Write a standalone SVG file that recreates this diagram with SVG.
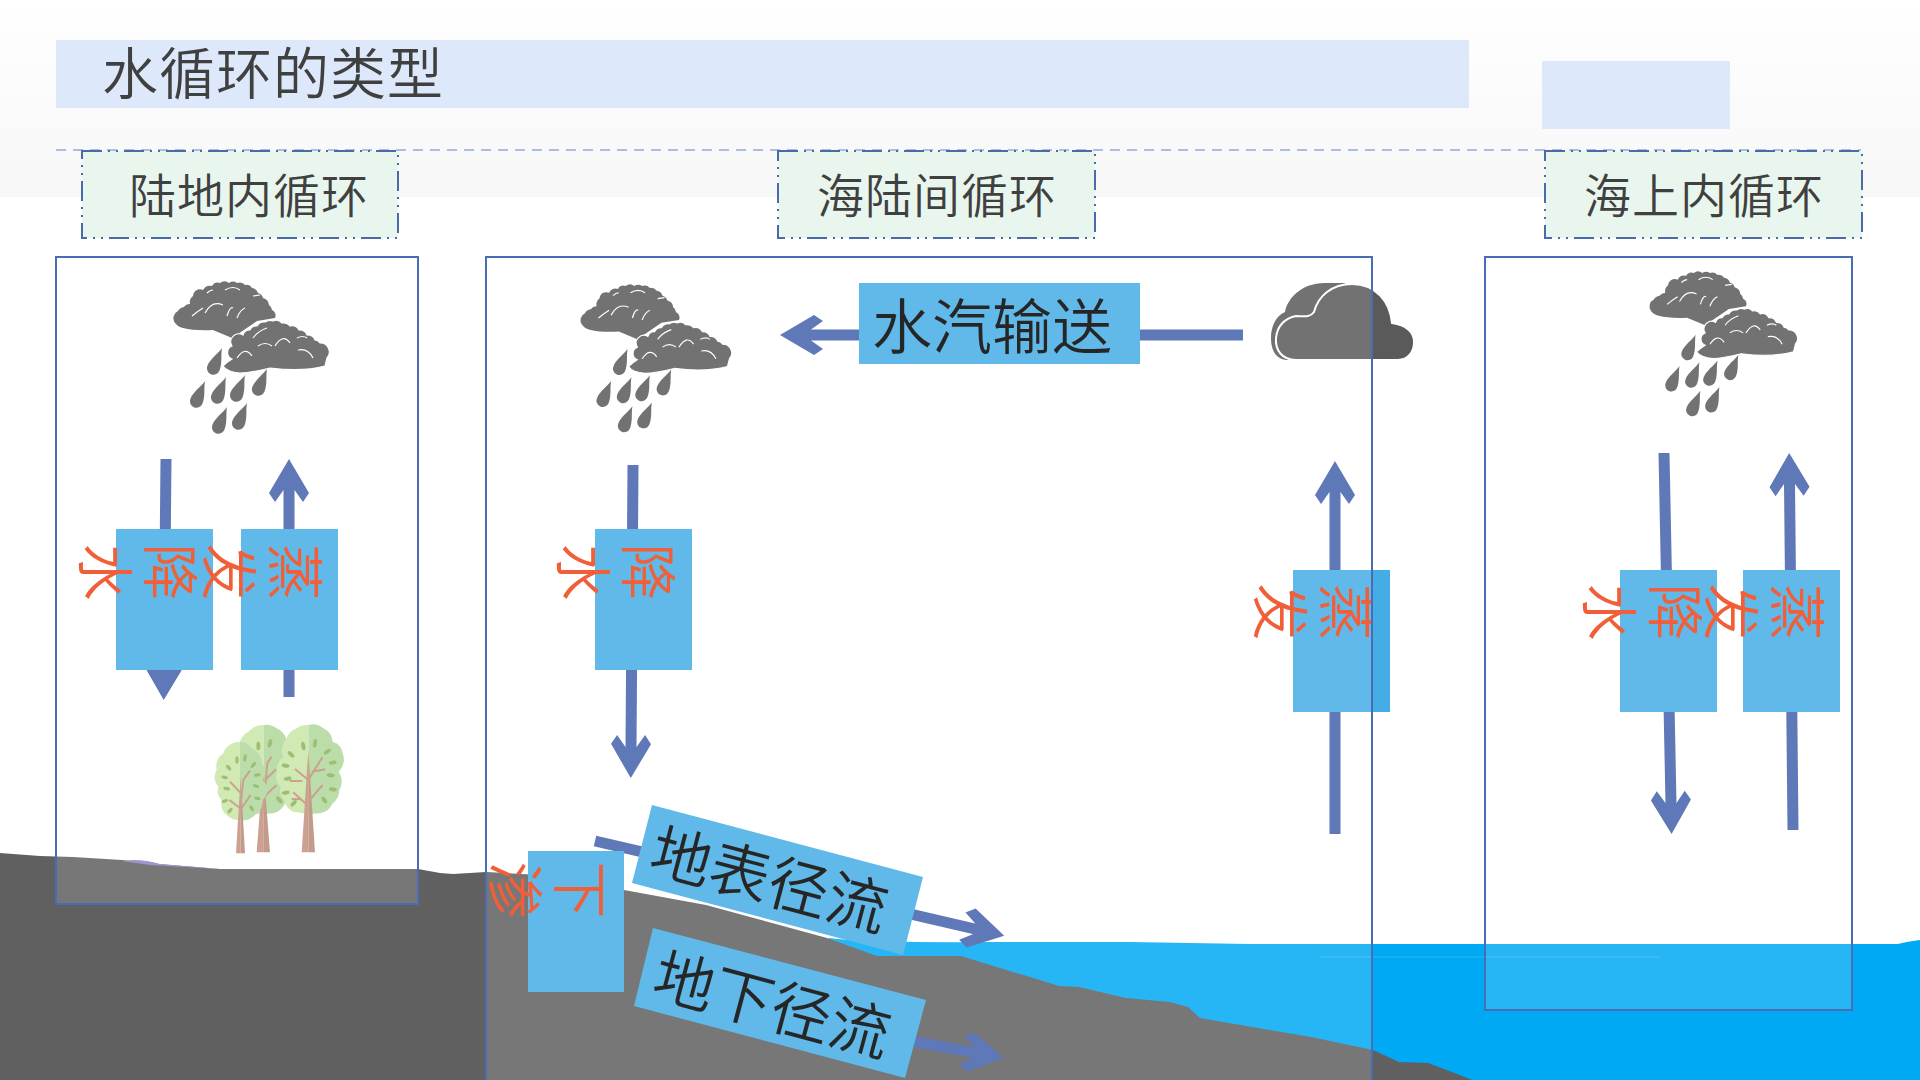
<svg xmlns="http://www.w3.org/2000/svg" xmlns:xlink="http://www.w3.org/1999/xlink" width="1920" height="1080" viewBox="0 0 1920 1080">
  <style>
    text { font-family: "Noto Sans CJK SC", "Noto Sans", sans-serif; font-weight: 350; }
    .title { font-size: 56px; letter-spacing: 1px; fill: #404040; }
    .tag-box { fill: #e8f6ee; stroke: #4a6ba8; stroke-width: 2; stroke-dasharray: 20 6 2 6 2 6; }
    .tag { font-size: 47px; letter-spacing: 1px; fill: #404040; text-anchor: middle; }
    .box { fill: #45ade5; }
    .v { font-size: 57px; fill: #ee4416; text-anchor: middle; }
    .flow { font-size: 60.5px; fill: #000; text-anchor: middle; }
    .pipe { fill: none; stroke: #4361ac; stroke-width: 11; marker-end: url(#head); }
    .panel { fill: #fff; fill-opacity: .15; stroke: #4a6cb4; stroke-width: 2; }
    .dark { fill: #5a5a5a; }
    .gleam { fill: none; stroke: #fff; stroke-width: 1.2; }
    .bark { fill: none; stroke: #c4917c; stroke-width: 6; }
    .leaf { fill: #8fb35c; }
  </style>
  <defs>
    <linearGradient id="band" x1="0" y1="0" x2="0" y2="1">
      <stop offset="0" stop-color="#ffffff"/>
      <stop offset="1" stop-color="#f7f7f7"/>
    </linearGradient>
    <marker id="head" markerUnits="userSpaceOnUse" viewBox="-45 -22 46 44" refX="-30" refY="0" markerWidth="46" markerHeight="44" orient="auto">
      <path d="M0,0 L-34,20 L-43,14 L-31,5.5 L-31,-5.5 L-43,-14 L-34,-20 Z" fill="#4361ac"/>
    </marker>
    <path id="drop" d="M0,0 C1.5,7 6.5,14 6.5,22 A6.5,6.5 0 0 1 -6.5,22 C-6.5,14 -1.5,7 0,0 Z"/>
    <g id="rainCloud" class="dark">
      <!-- upper and lower thunderheads with scalloped crowns -->
      <path d="M0,40 A8,8 0 0 1 3,28 A8,8 0 0 1 9,24 A7,7 0 0 1 15,21 A8,8 0 0 1 18,13 A7,7 0 0 1 28,7 A8,8 0 0 1 37,3 A7,7 0 0 1 45,0 A7,7 0 0 1 54,0 A7,7 0 0 1 62,0 A8,8 0 0 1 70,2 A7,7 0 0 1 77,5 A7,7 0 0 1 83,10 A7,7 0 0 1 88,15 A8,8 0 0 1 94,22 A7,7 0 0 1 97,27 A6,6 0 0 1 100,35 L82,38 L57,55 L38,47 Q20,48 8,45 Q3,44 0,40 Z"/>
      <path d="M48,83 Q52,79 57,76 A7,7 0 0 1 57,63 A8,8 0 0 1 68,52 A7,7 0 0 1 75,47 A7,7 0 0 1 82,43 A8,8 0 0 1 90,39 A8,8 0 0 1 98,38 A8,8 0 0 1 107,40 A8,8 0 0 1 115,43 A8,8 0 0 1 124,47 A8,8 0 0 1 132,52 A8,8 0 0 1 140,57 A7,7 0 0 1 145,60 A9,9 0 0 1 152,75 L150,83 Q128,89 95,85 Q75,90 65,90 Q52,89 48,83 Z" stroke="#fff" stroke-width="1.2"/>
      <path class="gleam" d="M30,30 Q37,17 48,22 M52,33 Q55,23 58,25 M62,35 Q65,27 70,25 M17,33 Q23,28 28,25 M50,7 Q58,2 65,7 M32,10 Q35,7 38,7 M78,13 L85,12"/>
      <path class="gleam" d="M62,75 Q70,63 77,73 M83,63 Q90,58 97,63 M100,63 Q108,50 115,60 M123,67 Q133,65 138,75 M122,55 Q128,52 132,55 M78,55 Q83,48 92,45"/>
      <use xlink:href="#drop" href="#drop" transform="translate(47 65) rotate(23)"/>
      <use xlink:href="#drop" href="#drop" transform="translate(30 98) rotate(23)"/>
      <use xlink:href="#drop" href="#drop" transform="translate(51 94) rotate(23)"/>
      <use xlink:href="#drop" href="#drop" transform="translate(70 92) rotate(23)"/>
      <use xlink:href="#drop" href="#drop" transform="translate(92 86) rotate(23)"/>
      <use xlink:href="#drop" href="#drop" transform="translate(52 124) rotate(23)"/>
      <use xlink:href="#drop" href="#drop" transform="translate(72 120) rotate(23)"/>
    </g>
  </defs>

  <!-- page backdrop -->
  <rect width="1920" height="1080" fill="#fff"/>
  <rect width="1920" height="197" fill="url(#band)"/>

  <!-- water and land -->
  <path d="M829,938 Q870,943 1000,942 L1130,942 L1250,944 L1898,944 Q1905,942 1920,940 L1920,1080 L1400,1080 L829,960 Z" fill="#00a9f4"/>
  <line x1="1320" y1="957" x2="1660" y2="957" stroke="#fff" stroke-opacity=".12" stroke-width="1.5"/>
  <path d="M0,853 L40,856 L73,857 L122,860 L159,864 L220,869 L418,869 L440,873 L453,874 L486,872 L540,875 L624,890 L706,905 L827,938 L877,956 L961,956 L1000,968 L1030,977 L1059,986 L1079,987 L1126,998 L1170,1002 L1188,1007 L1200,1018 L1252,1027 L1311,1037 L1373,1050 L1399,1062 L1428,1063 L1452,1072 L1472,1080 L0,1080 Z" fill="#606060"/>
  <path d="M122,861 Q140,858 160,864 L220,869 L150,865 Z" fill="#8a86c4"/>

  <!-- heading -->
  <g id="heading">
    <rect x="56" y="40" width="1413" height="68" fill="#dde9fa"/>
    <text class="title" x="102" y="94">水循环的类型</text>
  </g>
  <rect id="heading-side" x="1542" y="61" width="188" height="68" fill="#dde9fa"/>
  <line x1="56" y1="150" x2="1861" y2="150" stroke="#aabfdf" stroke-width="2" stroke-dasharray="10 7"/>

  <g id="tag-land">
    <rect class="tag-box" x="82" y="151" width="316" height="87"/>
    <text class="tag" x="249" y="213">陆地内循环</text>
  </g>
  <g id="tag-between">
    <rect class="tag-box" x="778" y="151" width="317" height="87"/>
    <text class="tag" x="937" y="213">海陆间循环</text>
  </g>
  <g id="tag-sea">
    <rect class="tag-box" x="1545" y="151" width="317" height="87"/>
    <text class="tag" x="1704" y="213">海上内循环</text>
  </g>

  <!-- weather -->
  <g id="rain-land"><use xlink:href="#rainCloud" href="#rainCloud" transform="translate(175 283)"/></g>
  <g id="rain-between"><use xlink:href="#rainCloud" href="#rainCloud" transform="translate(582 286) scale(.97)"/></g>
  <g id="rain-sea"><use xlink:href="#rainCloud" href="#rainCloud" transform="translate(1651 273) scale(.95)"/></g>
  <g id="cloud-sea" class="dark">
    <path d="M1288,360 C1276,360 1271,350 1271,338 C1271,326 1276,316 1285,312 C1287,300 1300,283 1325,283 L1345,283 L1345,360 Z"/>
    <path d="M1296,360 C1282,360 1275,350 1276,338 C1277,326 1285,318 1296,316 C1303,316 1310,318 1314,312 C1318,296 1332,284 1352,284 C1376,284 1390,302 1392,323 C1406,325 1414,332 1414,342 C1414,352 1408,360 1398,360 Z" stroke="#fff" stroke-width="2"/>
  </g>

  <!-- trees on the land -->
  <g id="trees" transform="translate(180 700) scale(.3333)">
    <g>
      <path d="M250,75 A50,50 0 0 1 290,85 A50,50 0 0 1 318,115 L318,300 A50,50 0 0 1 280,340 L250,342 Z" fill="#aed89a"/>
      <path d="M250,75 L250,342 L190,342 L180,125 A50,50 0 0 1 205,95 A60,60 0 0 1 250,75 Z" fill="#c9e6a6"/>
      <path d="M250,200 L230,457 L250,457 Z" fill="#c4917c"/>
      <path d="M250,200 L270,457 L250,457 Z" fill="#b98a77"/>
      <path class="bark" d="M250,330 L262,190 L275,170 M256,240 L288,208 M252,290 L290,255"/>
      <ellipse class="leaf" cx="235" cy="138" rx="6" ry="13"/>
      <ellipse class="leaf" cx="270" cy="130" rx="6" ry="13" transform="rotate(15 270 130)"/>
      <ellipse class="leaf" cx="298" cy="300" rx="6" ry="13" transform="rotate(-40 298 300)"/>
    </g>
    <g>
      <path d="M180,125 A45,45 0 0 1 215,145 A50,50 0 0 1 245,190 A40,40 0 0 1 248,240 A40,40 0 0 1 248,300 A50,50 0 0 1 225,345 A50,50 0 0 1 180,360 Z" fill="#aed89a"/>
      <path d="M180,360 A50,50 0 0 1 140,345 A45,45 0 0 1 125,300 A40,40 0 0 1 115,260 A40,40 0 0 1 110,210 A50,50 0 0 1 130,160 A50,50 0 0 1 180,125 Z" fill="#c9e6a6"/>
      <path d="M182,230 L168,460 L182,460 Z" fill="#c4917c"/>
      <path d="M182,230 L195,460 L182,460 Z" fill="#b98a77"/>
      <path class="bark" d="M181,320 L190,240 L210,212 M183,280 L150,245 M181,330 L212,285 M181,325 L148,300"/>
      <ellipse class="leaf" cx="171" cy="180" rx="5" ry="11"/>
      <ellipse class="leaf" cx="195" cy="174" rx="5" ry="11" transform="rotate(10 195 174)"/>
      <ellipse class="leaf" cx="146" cy="203" rx="5" ry="10" transform="rotate(-40 146 203)"/>
      <ellipse class="leaf" cx="220" cy="195" rx="5" ry="11" transform="rotate(40 220 195)"/>
      <ellipse class="leaf" cx="134" cy="232" rx="5" ry="10" transform="rotate(-75 134 232)"/>
      <ellipse class="leaf" cx="232" cy="225" rx="5" ry="10" transform="rotate(80 232 225)"/>
      <ellipse class="leaf" cx="140" cy="266" rx="5" ry="10" transform="rotate(-80 140 266)"/>
      <ellipse class="leaf" cx="228" cy="258" rx="5" ry="10" transform="rotate(-70 228 258)"/>
      <ellipse class="leaf" cx="135" cy="303" rx="5" ry="10" transform="rotate(70 135 303)"/>
      <ellipse class="leaf" cx="232" cy="295" rx="5" ry="10" transform="rotate(-80 232 295)"/>
      <ellipse class="leaf" cx="150" cy="332" rx="5" ry="10" transform="rotate(40 150 332)"/>
      <ellipse class="leaf" cx="215" cy="325" rx="5" ry="10" transform="rotate(-35 215 325)"/>
    </g>
    <g>
      <path d="M385,75 A50,50 0 0 1 430,85 A50,50 0 0 1 458,125 A40,40 0 0 1 488,160 A50,50 0 0 1 476,215 A50,50 0 0 1 478,270 A50,50 0 0 1 458,310 A50,50 0 0 1 420,340 L385,342 Z" fill="#aed89a"/>
      <path d="M385,342 L340,335 A50,50 0 0 1 312,300 A40,40 0 0 1 302,260 A40,40 0 0 1 291,215 A50,50 0 0 1 310,170 A50,50 0 0 1 320,115 A50,50 0 0 1 350,85 A50,50 0 0 1 385,75 Z" fill="#c9e6a6"/>
      <path d="M385,150 L365,457 L385,457 Z" fill="#c4917c"/>
      <path d="M385,150 L405,457 L385,457 Z" fill="#b98a77"/>
      <path class="bark" d="M385,240 L427,172 M395,215 L436,208 M385,305 L428,255 M385,240 L345,207 M367,243 L330,243 M385,318 L340,277 M365,298 L335,297"/>
      <ellipse class="leaf" cx="370" cy="138" rx="6" ry="13" transform="rotate(-10 370 138)"/>
      <ellipse class="leaf" cx="405" cy="130" rx="6" ry="13" transform="rotate(10 405 130)"/>
      <ellipse class="leaf" cx="333" cy="163" rx="6" ry="12" transform="rotate(-45 333 163)"/>
      <ellipse class="leaf" cx="442" cy="155" rx="6" ry="12" transform="rotate(55 442 155)"/>
      <ellipse class="leaf" cx="458" cy="188" rx="6" ry="12" transform="rotate(80 458 188)"/>
      <ellipse class="leaf" cx="317" cy="197" rx="6" ry="12" transform="rotate(-80 317 197)"/>
      <ellipse class="leaf" cx="452" cy="226" rx="6" ry="12" transform="rotate(-80 452 226)"/>
      <ellipse class="leaf" cx="323" cy="236" rx="6" ry="12" transform="rotate(80 323 236)"/>
      <ellipse class="leaf" cx="459" cy="268" rx="6" ry="12" transform="rotate(-80 459 268)"/>
      <ellipse class="leaf" cx="317" cy="278" rx="6" ry="12" transform="rotate(80 317 278)"/>
      <ellipse class="leaf" cx="433" cy="300" rx="6" ry="12" transform="rotate(-35 433 300)"/>
      <ellipse class="leaf" cx="341" cy="310" rx="6" ry="12" transform="rotate(40 341 310)"/>
    </g>
  </g>

  <!-- flow arrows -->
  <g id="connectors">
    <line class="pipe" x1="166" y1="459" x2="164" y2="670"/>
    <line class="pipe" x1="289" y1="697" x2="289" y2="489"/>
    <line class="pipe" x1="633" y1="465" x2="631" y2="748"/>
    <line class="pipe" x1="1243" y1="335" x2="810" y2="335"/>
    <line class="pipe" x1="1335" y1="834" x2="1335" y2="491"/>
    <line class="pipe" x1="1664" y1="453" x2="1671" y2="804"/>
    <line class="pipe" x1="1793" y1="830" x2="1789.5" y2="483"/>
    <line class="pipe" x1="595" y1="841" x2="975" y2="929"/>
    <line class="pipe" x1="780" y1="1017.5" x2="974.5" y2="1052.7"/>
  </g>

  <!-- labelled process boxes; their glyphs run sideways, one per column -->
  <g id="node-rain-land">
    <rect class="box" x="116" y="529" width="97" height="141"/>
    <text class="v" transform="translate(169 572) rotate(90)" y="20">降</text>
    <text class="v" transform="translate(104 572) rotate(90)" y="20">水</text>
  </g>
  <g id="node-evap-land">
    <rect class="box" x="241" y="529" width="97" height="141"/>
    <text class="v" transform="translate(294 572) rotate(90)" y="20">蒸</text>
    <text class="v" transform="translate(228 572) rotate(90)" y="20">发</text>
  </g>
  <g id="node-rain-between">
    <rect class="box" x="595" y="529" width="97" height="141"/>
    <text class="v" transform="translate(647 572) rotate(90)" y="20">降</text>
    <text class="v" transform="translate(582 572) rotate(90)" y="20">水</text>
  </g>
  <g id="node-evap-between">
    <rect class="box" x="1293" y="570" width="97" height="142"/>
    <text class="v" transform="translate(1345 612) rotate(90)" y="20">蒸</text>
    <text class="v" transform="translate(1279 612) rotate(90)" y="20">发</text>
  </g>
  <g id="node-rain-sea">
    <rect class="box" x="1620" y="570" width="97" height="142"/>
    <text class="v" transform="translate(1674 612) rotate(90)" y="20">降</text>
    <text class="v" transform="translate(1608 612) rotate(90)" y="20">水</text>
  </g>
  <g id="node-evap-sea">
    <rect class="box" x="1743" y="570" width="97" height="142"/>
    <text class="v" transform="translate(1796 612) rotate(90)" y="20">蒸</text>
    <text class="v" transform="translate(1730 612) rotate(90)" y="20">发</text>
  </g>
  <g id="node-seep">
    <rect class="box" x="528" y="851" width="96" height="141"/>
    <text class="v" transform="translate(579 890) rotate(90)" y="20">下</text>
    <text class="v" transform="translate(514 890) rotate(90)" y="20">渗</text>
  </g>
  <g id="node-vapour">
    <rect class="box" x="859" y="283" width="281" height="81"/>
    <text class="flow" x="992" y="349" style="font-size:60px">水汽输送</text>
  </g>
  <g id="node-surface">
    <path class="box" d="M652,805 L923,877 L903,955 L632,883 Z"/>
    <text class="flow" transform="translate(769 881) rotate(14.8)" y="21">地表径流</text>
  </g>
  <g id="node-ground">
    <path class="box" d="M653,928 L926,1000 L905,1078 L634,1006 Z"/>
    <text class="flow" transform="translate(772 1006) rotate(15)" y="21">地下径流</text>
  </g>

  <!-- translucent panels framing the three cycles -->
  <g id="panel-land"><rect class="panel" x="56" y="257" width="362" height="647"/></g>
  <g id="panel-between"><path class="panel" d="M486,1080 V257 H1372 V1080"/></g>
  <g id="panel-sea"><rect class="panel" x="1485" y="257" width="367" height="753"/></g>
</svg>
